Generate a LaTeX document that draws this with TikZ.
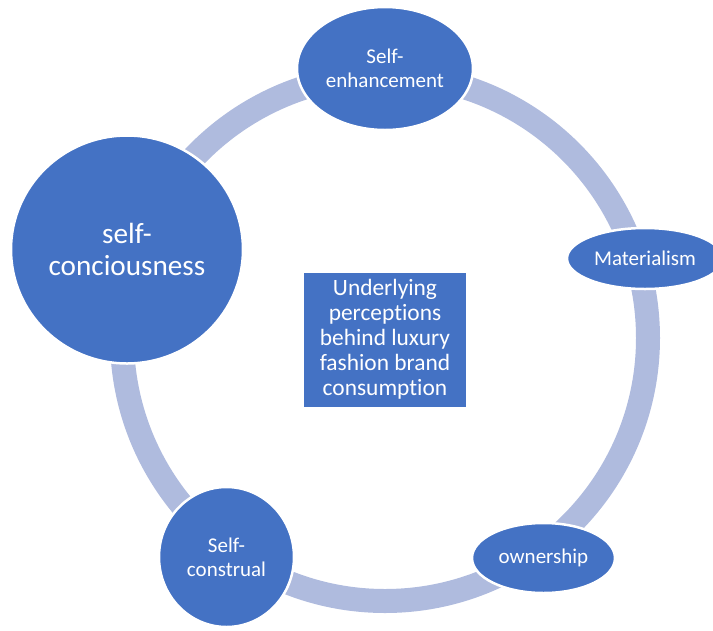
\documentclass[tikz,border=0pt]{standalone}
\usepackage{fontspec}
\setmainfont[Ligatures=NoCommon]{Carlito}
\usetikzlibrary{shapes.geometric}
\definecolor{nodeblue}{HTML}{4472C4}
\definecolor{ringblue}{HTML}{AFBBDE}
\begin{document}
\begin{tikzpicture}[x=1pt,y=-1pt,
  cyclenode/.style={ellipse,fill=nodeblue,draw=white,line width=2.5pt,
    text=white,inner sep=0pt,align=center,
    font=\fontsize{21}{24}\selectfont},
  ringline/.style={draw=ringblue,line width=24pt},
  centrebox/.style={rectangle,fill=nodeblue,text=white,inner sep=0pt,
    align=center,minimum width=162pt,minimum height=134pt,
    font=\fontsize{23.4}{25}\selectfont}]
\useasboundingbox (0,0) rectangle (713,630);
\clip (0,0) rectangle (713,630);
\coordinate (ctr) at (385,338);
% the cycle ring
\draw[ringline] (ctr) circle (263);
% central topic
\node[centrebox] (topic) at (385,339.5)
  {Underlying\\perceptions\\behind luxury\\fashion brand\\consumption};
% the five perceptions around the ring
\node[cyclenode,minimum width=176pt,minimum height=123pt] (enh) at (385,68.5)
  {Self-\\enhancement};
\node[cyclenode,minimum width=156pt,minimum height=61pt] (mat) at (645,258.5)
  {Materialism};
\node[cyclenode,minimum width=143pt,minimum height=70pt] (own) at (543.5,558)
  {ownership};
\node[cyclenode,minimum width=135pt,minimum height=140pt] (con) at (226.5,557)
  {Self-\\construal};
\node[cyclenode,minimum width=232pt,minimum height=228pt,
  font=\fontsize{29.2}{31.5}\selectfont] (sc) at (127,249.5)
  {self-\\conciousness};
\end{tikzpicture}
\end{document}
